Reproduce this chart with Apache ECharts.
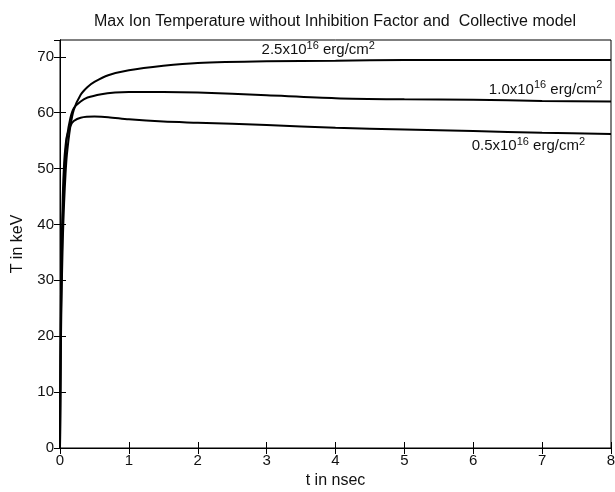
<!DOCTYPE html>
<html>
<head>
<meta charset="utf-8">
<script src="https://cdn.jsdelivr.net/npm/echarts@6/dist/echarts.min.js"></script>
<style>
  html, body { margin: 0; padding: 0; background: #fff; }
  #chart { width: 615px; height: 492px; }
</style>
</head>
<body>
<div id="chart"></div>
<script>
var titleText = "Max Ion Temperature without Inhibition Factor and  Collective model";

// [t in nsec, T in keV]
var curve05 = [[0,0],[0.01,22],[0.02,33],[0.04,45],[0.06,51],[0.08,54],[0.1,55.8],[0.15,57.6],[0.2,58.5],[0.3,59.1],[0.5,59.3],[0.7,59.2],[1,58.8],[1.5,58.4],[2,58.2],[3,57.8],[4,57.3],[5,57.0],[6,56.7],[7,56.4],[8,56.2]];
var curve10 = [[0,0],[0.01,18],[0.02,29],[0.04,41],[0.06,48],[0.08,52.5],[0.1,55.5],[0.15,59],[0.2,60.8],[0.3,62],[0.4,62.7],[0.6,63.3],[0.8,63.6],[1,63.7],[1.5,63.7],[2,63.6],[3,63.1],[4,62.6],[5,62.4],[6,62.3],[7,62.1],[8,62.0]];
var curve25 = [[0,0],[0.01,15],[0.02,25],[0.04,37],[0.06,44],[0.08,49],[0.1,52.5],[0.15,57.5],[0.2,60.5],[0.3,63.2],[0.4,64.6],[0.5,65.5],[0.7,66.7],[1,67.6],[1.5,68.4],[2,68.9],[3,69.2],[4,69.3],[5,69.4],[6,69.4],[7,69.4],[8,69.4]];

var seriesNames = ["0.5", "1.0", "2.5"];
var labelCoords = [[6.8, 54.0], [7.05, 64.1], [3.75, 71.2]];

var font = "Liberation Sans, Arial, sans-serif";

function mkSeries(name, data, coord) {
  return {
    name: name,
    type: "line",
    data: data,
    showSymbol: false,
    smooth: 0.3,
    lineStyle: { color: "#000", width: 2 },
    markPoint: {
      symbol: "circle",
      symbolSize: 1,
      itemStyle: { color: "rgba(0,0,0,0)" },
      data: [{ coord: coord, value: name }],
      label: {
        show: true,
        position: "inside",
        formatter: name + "x10{sup|16} erg/cm{sup|2}",
        color: "#111",
        fontFamily: font,
        fontSize: 15,
        lineHeight: 20,
        rich: {
          sup: { fontSize: 11, verticalAlign: "top", fontFamily: font, color: "#111", lineHeight: 20 }
        }
      }
    }
  };
}

var chart = echarts.init(document.getElementById("chart"));
function axisStyle() {
  return {
    axisLine: { show: true, lineStyle: { color: "#000", width: 1 } },
    axisTick: { show: true, inside: true, length: 6, lineStyle: { color: "#000" } },
    splitLine: { show: false }
  };
}

chart.setOption({
  animation: false,
  title: {
    text: titleText,
    left: 330,
    textAlign: "center",
    top: 9,
    textStyle: { fontFamily: font, fontSize: 16, fontWeight: "normal", color: "#111" }
  },
  grid: {
    left: 60, right: 4, top: 40, bottom: 44,
    containLabel: false, outerBoundsMode: "none",
    show: true, borderColor: "#000", borderWidth: 1
  },
  xAxis: [
    Object.assign(axisStyle(), {
      type: "value", min: 0, max: 8, interval: 1,
      name: "t in nsec", nameLocation: "middle", nameGap: 24,
      nameTextStyle: { fontFamily: font, fontSize: 16, color: "#111" },
      axisLabel: { fontFamily: font, fontSize: 15, color: "#111", margin: 5 }
    }),
    Object.assign(axisStyle(), {
      type: "value", min: 0, max: 8, interval: 1, position: "top",
      axisLabel: { show: false }
    })
  ],
  yAxis: [
    Object.assign(axisStyle(), {
      type: "value", min: 0, max: 73, interval: 10,
      name: "T in keV", nameLocation: "middle", nameGap: 34,
      nameTextStyle: { fontFamily: font, fontSize: 16, color: "#111" },
      axisLabel: { fontFamily: font, fontSize: 15, color: "#111", margin: 6,
        showMaxLabel: false }
    }),
    Object.assign(axisStyle(), {
      type: "value", min: 0, max: 73, interval: 10, position: "right",
      axisLabel: { show: false }
    })
  ],
  series: [
    mkSeries(seriesNames[0], curve05, labelCoords[0]),
    mkSeries(seriesNames[1], curve10, labelCoords[1]),
    mkSeries(seriesNames[2], curve25, labelCoords[2])
  ]
});
</script>
</body>
</html>
